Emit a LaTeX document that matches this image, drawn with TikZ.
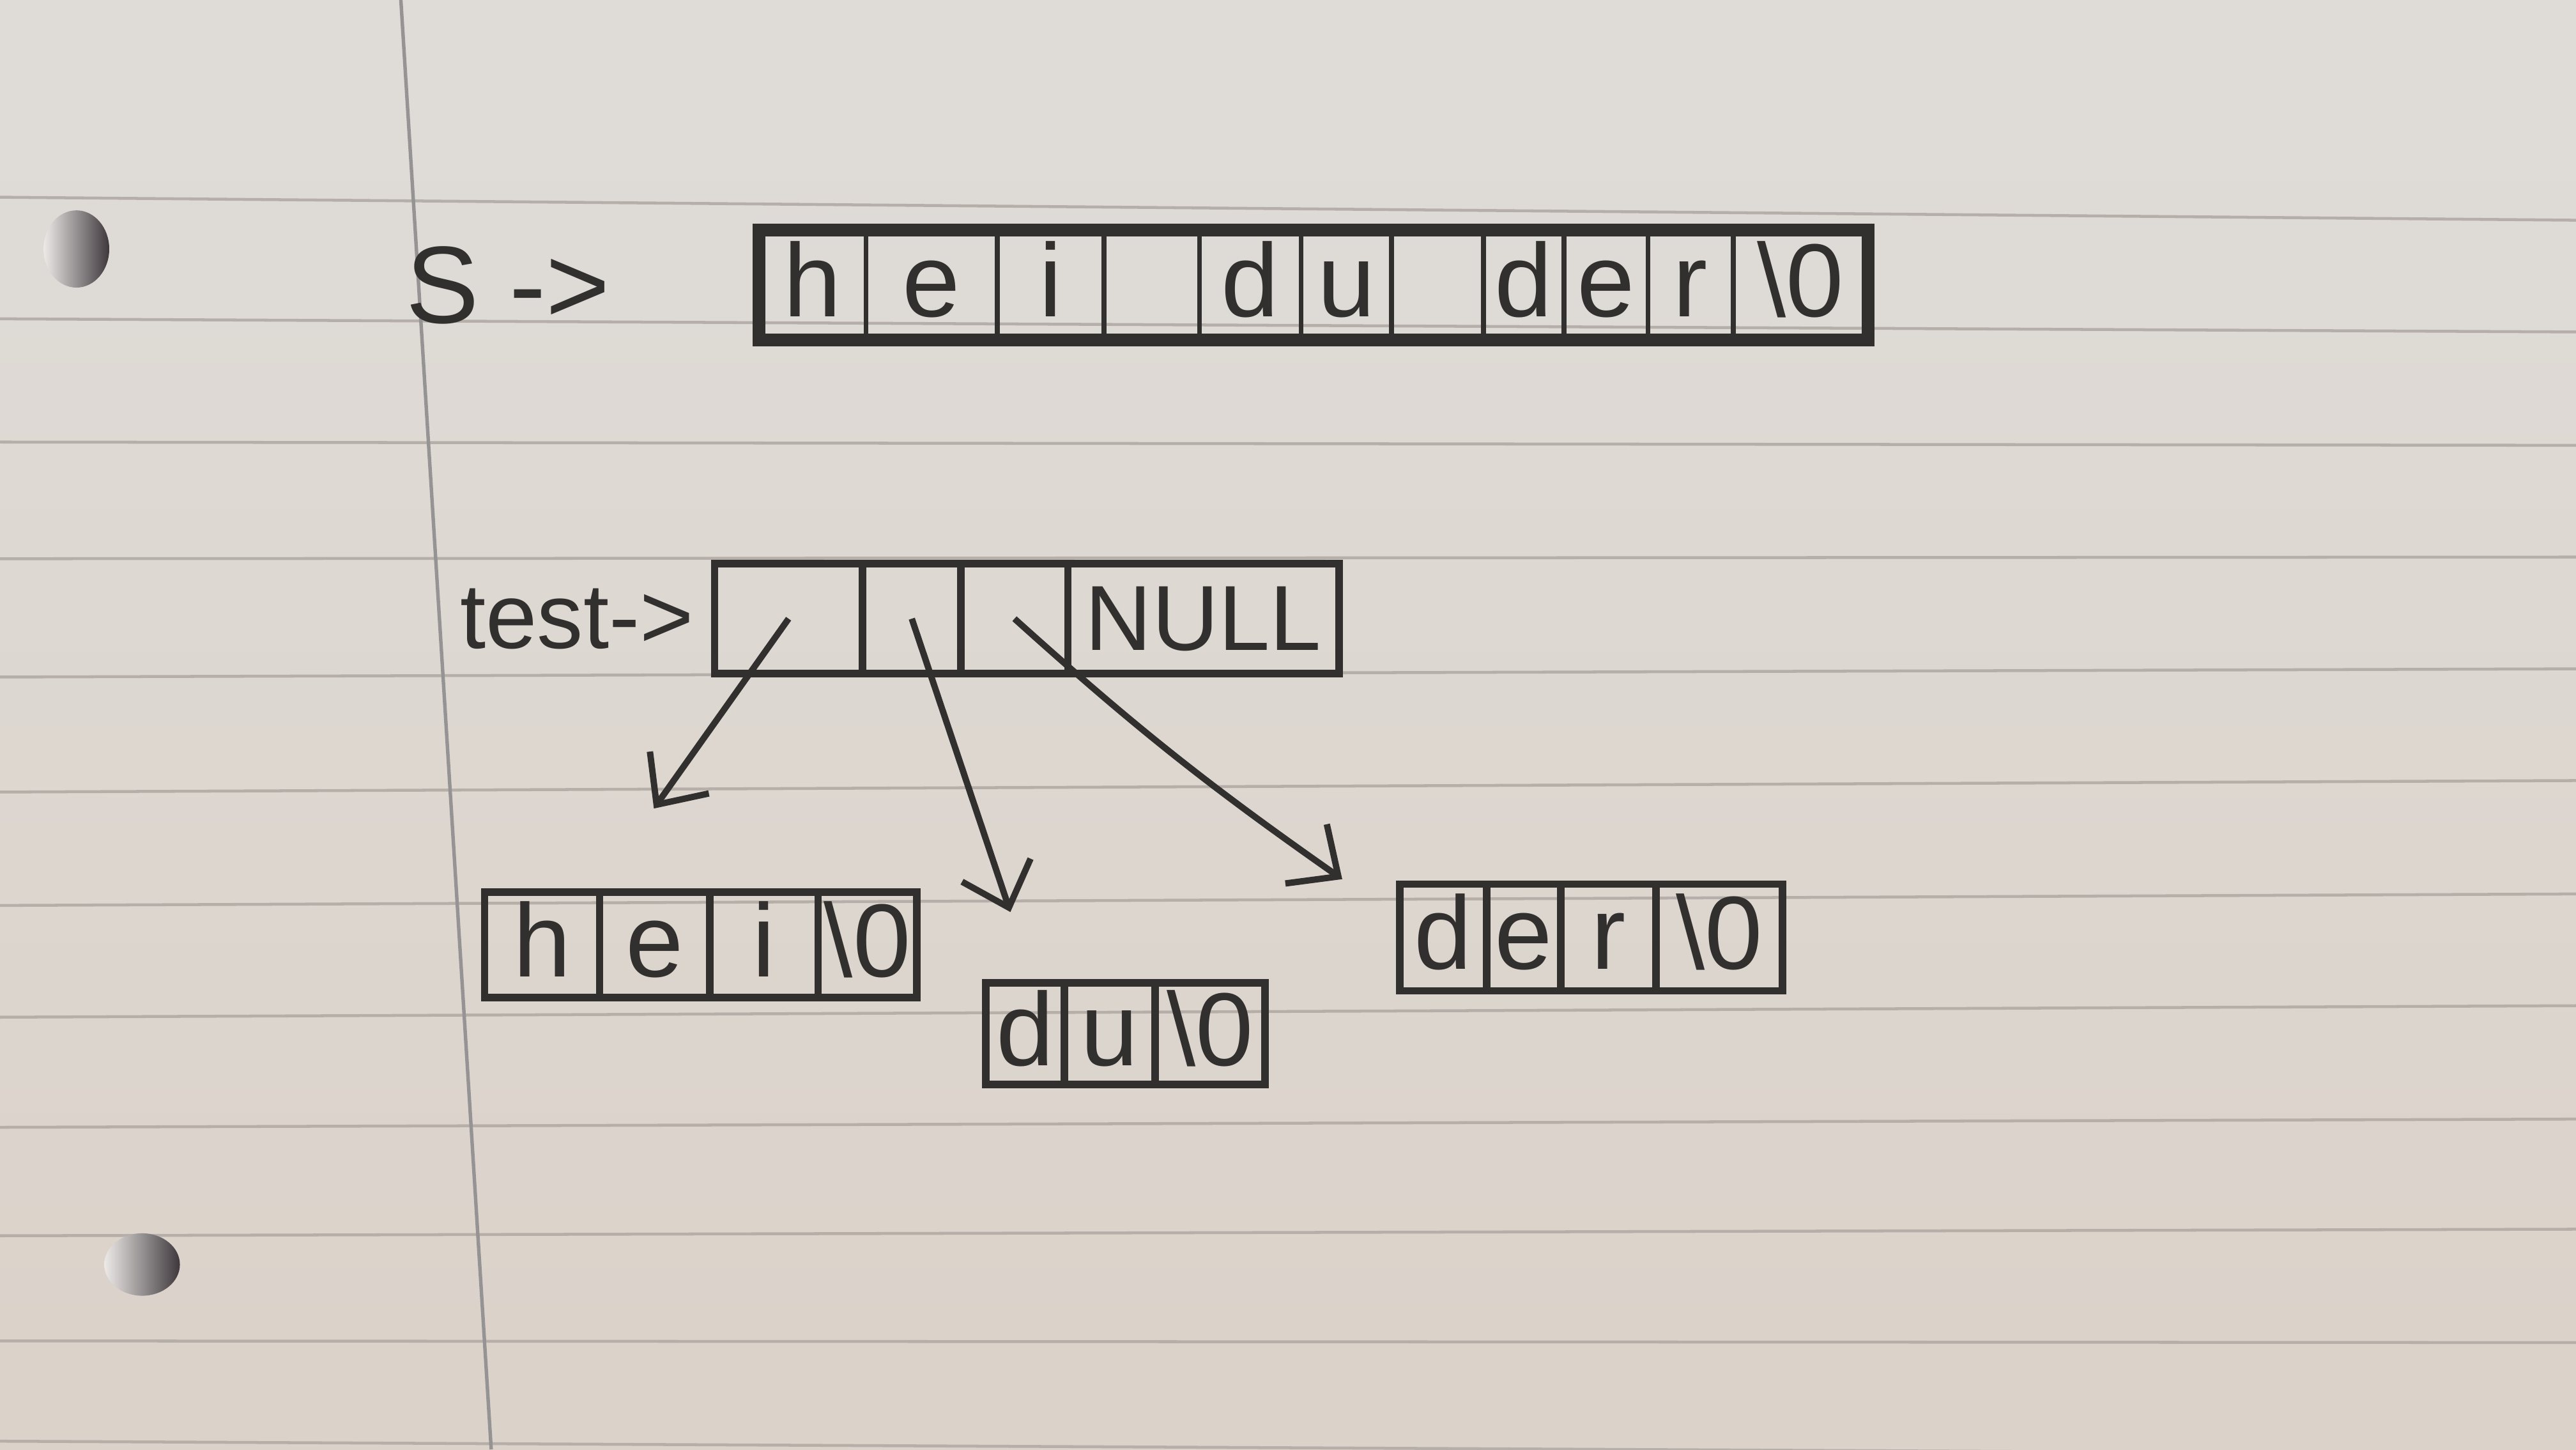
\documentclass[tikz,border=0pt]{standalone}
\usepackage{fontspec}
\setmainfont{Liberation Sans}
\usetikzlibrary{positioning, arrows.meta}
\definecolor{papertop}{RGB}{223,220,216}
\definecolor{paperbot}{RGB}{219,210,201}
\definecolor{ink}{RGB}{50,48,47}
\definecolor{ruling}{RGB}{182,174,168}
\definecolor{margin}{RGB}{150,147,148}
\definecolor{holelight}{RGB}{236,233,231}
\definecolor{holedark}{RGB}{62,56,60}
\tikzset{
    cell/.style={draw=ink, rectangle, line width=1.3pt, inner sep=0pt, outer sep=0pt, text=ink,
        text height=13pt, text depth=2pt, font=\fontsize{18}{22}\selectfont},
    lbl/.style={text=ink, inner sep=0pt, font=\fontsize{19}{23}\selectfont},
    ptr/.style={draw=ink, line width=1.1pt, -{Straight Barb[length=2.4mm, width=4.4mm, line width=1.1pt]}}
}

\begin{document}
\begin{tikzpicture}
        \useasboundingbox (0,0) rectangle (15.68,8.82);

        % --- Paper ---
        \shade [top color=papertop, bottom color=paperbot] (0,0) rectangle (15.68,8.82);
        \foreach \l/\r in {7.62/7.48, 6.88/6.80, 6.13/6.11, 5.42/5.43, 4.70/4.75, 4.00/4.07,
                           3.31/3.38, 2.63/2.70, 1.96/2.01, 1.30/1.34, 0.66/0.65, 0.05/-0.03}
            \draw [ruling, line width=0.5pt] (0,\l) -- (15.68,\r);
        \draw [margin, line width=0.6pt] (2.44,8.82) -- (2.99,0);
        \shade [left color=holelight, right color=holedark] (0.465,7.305) ellipse (0.2 and 0.235);
        \shade [left color=holelight, right color=holedark] (0.865,1.125) ellipse (0.23 and 0.19);

        % --- String s ---
        \foreach \i/\xl/\xr/\c in {1/4.62/5.27/h, 2/5.27/6.07/e, 3/6.07/6.72/i, 4/6.72/7.30/{},
                                  5/7.30/7.92/d, 6/7.92/8.47/u, 7/8.47/9.03/{}, 8/9.03/9.52/d,
                                  9/9.52/10.03/e, 10/10.03/10.55/r, 11/10.55/11.37/{\textbackslash 0}}
            \node [cell, line width=0.8pt, anchor=west, minimum width=(\xr-\xl)*1cm, minimum height=0.67cm]
                (s\i) at (\xl,7.085) {\c};
        \draw [ink, line width=2.2pt] (s1.north west) rectangle (s11.south east);
        \node [lbl] (slabel) [left=0.9cm of s1] {S ->};

        % --- Pointer array test ---
        \foreach \i/\xl/\xr/\c in {1/4.35/5.25/{}, 2/5.25/5.85/{}, 3/5.85/6.50/{},
                                  4/6.50/8.15/{\fontsize{16}{19}\selectfont NULL}}
            \node [cell, anchor=west, minimum width=(\xr-\xl)*1cm, minimum height=0.67cm]
                (t\i) at (\xl,5.055) {\c};
        \node [lbl, font=\fontsize{16}{19}\selectfont] (tlabel) [left=0.12cm of t1] {test->};

        % --- Substrings ---
        \foreach \i/\xl/\xr/\c in {1/2.95/3.65/h, 2/3.65/4.32/e, 3/4.32/4.98/i, 4/4.98/5.58/{\textbackslash 0}}
            \node [cell, anchor=west, minimum width=(\xr-\xl)*1cm, minimum height=0.64cm]
                (a\i) at (\xl,3.07) {\c};
        \foreach \i/\xl/\xr/\c in {1/6.00/6.48/d, 2/6.48/7.03/u, 3/7.03/7.70/{\textbackslash 0}}
            \node [cell, anchor=west, minimum width=(\xr-\xl)*1cm, minimum height=0.62cm]
                (b\i) at (\xl,2.53) {\c};
        \foreach \i/\xl/\xr/\c in {1/8.52/9.05/d, 2/9.05/9.50/e, 3/9.50/10.08/r, 4/10.08/10.85/{\textbackslash 0}}
            \node [cell, anchor=west, minimum width=(\xr-\xl)*1cm, minimum height=0.65cm]
                (c\i) at (\xl,3.115) {\c};

        % --- Pointers ---
        \coordinate (p1) at (3.98,3.90);
        \coordinate (p2) at (6.15,3.27);
        \coordinate (p3) at (8.17,3.47);
        \draw [ptr] (t1.center) -- (p1);
        \draw [ptr] (t2.center) -- (p2);
        \draw [ptr] (t3.center) to[out=-42, in=145] (p3);

    \end{tikzpicture}
\end{document}
